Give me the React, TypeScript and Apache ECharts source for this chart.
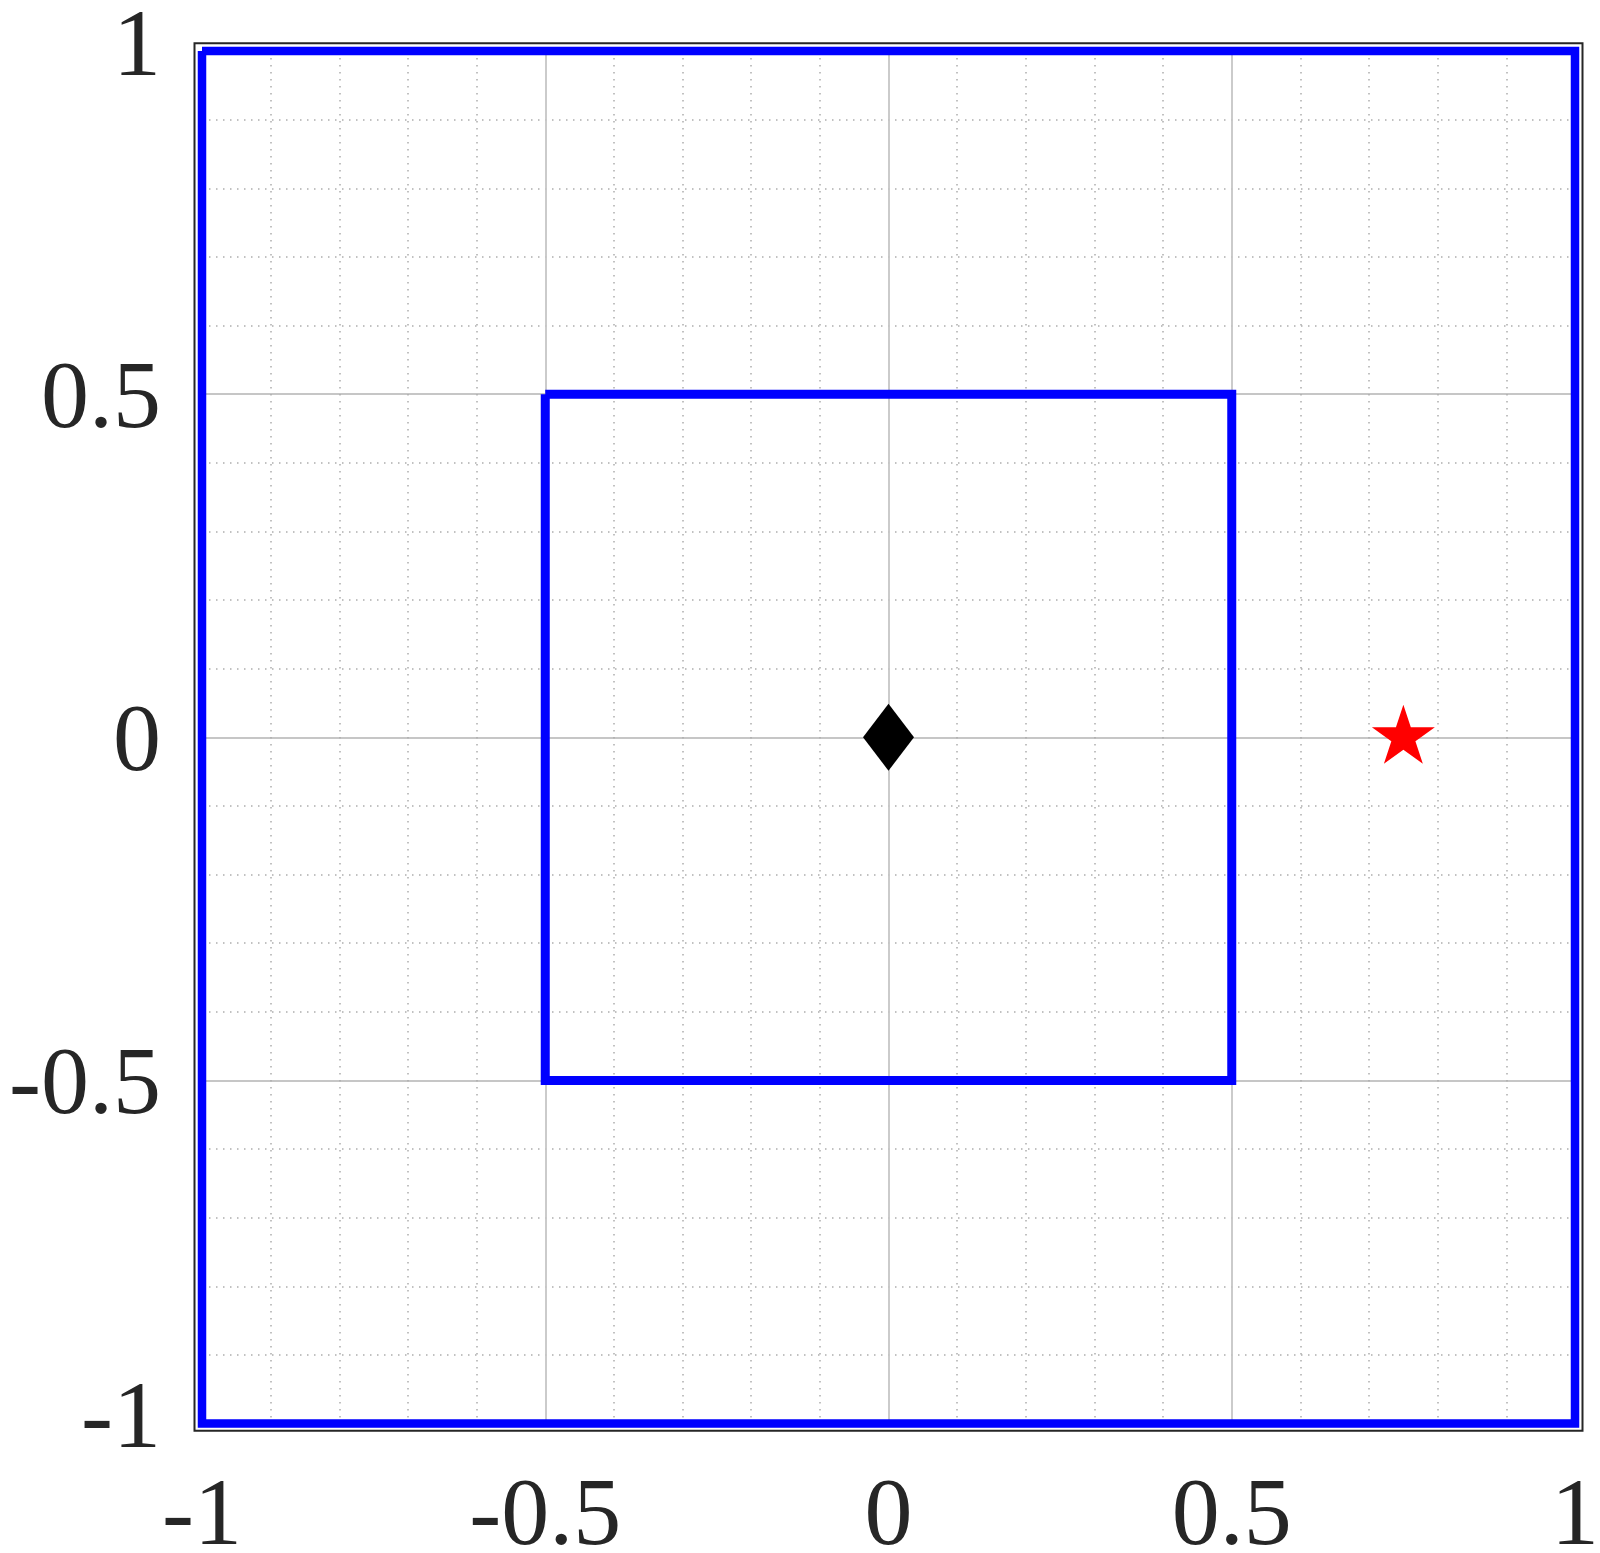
import React, { useEffect, useRef } from "react";
import * as echarts from "echarts";

// Data
const outerSquareX = [-1, 1, 1, -1, -1];
const outerSquareY = [1, 1, -1, -1, 1];
const innerSquareX = [-0.5, 0.5, 0.5, -0.5, -0.5];
const innerSquareY = [0.5, 0.5, -0.5, -0.5, 0.5];
const diamondPoint = [0, 0];
const starPoint = [0.75, 0];
const xTickValues = [-1, -0.5, 0, 0.5, 1];
const xTickLabels = ["-1", "-0.5", "0", "0.5", "1"];
const yTickValues = [-1, -0.5, 0, 0.5, 1];
const yTickLabels = ["-1", "-0.5", "0", "0.5", "1"];

const STAR =
  "path://M50,0 L61.23,34.55 L97.55,34.55 L68.17,55.9 L79.39,90.45 L50,69.1 L20.61,90.45 L31.83,55.9 L2.45,34.55 L38.77,34.55 Z";

const W = 1600;
const H = 1553;
const FONT = "'Liberation Serif', 'DejaVu Serif', serif";
const TEXT_COLOR = "#262626";

function labelFor(values: number[], labels: string[], raiseEnds: boolean) {
  return (v: number) => {
    const i = values.findIndex((t) => Math.abs(t - v) < 1e-9);
    if (i < 0) return "";
    const s = labels[i];
    if (raiseEnds && (i === 0 || i === values.length - 1)) return "{up|" + s + "}";
    return s;
  };
}

export default function App() {
  const ref = useRef<HTMLDivElement>(null);
  useEffect(() => {
    if (!ref.current) return;
    const chart = echarts.init(ref.current, null, { renderer: "svg" });
    const majorLine = { show: true, lineStyle: { color: "#c6c6c6", width: 1.8, type: "solid" as const } };
    const minorLine = { show: true, lineStyle: { color: "#adadad", width: 1.5, type: [1.5, 5.5] as any } };
    const axisCommon = {
      type: "value" as const,
      min: -1,
      max: 1,
      interval: 0.5,
      axisLine: { show: false },
      axisTick: { show: false },
      splitLine: majorLine,
      minorTick: { show: false, splitNumber: 5 },
      minorSplitLine: minorLine,
    };
    chart.setOption({
      animation: false,
      backgroundColor: "#ffffff",
      grid: {
        left: 202,
        right: 25,
        top: 51,
        bottom: 129.5,
        containLabel: false,
        outerBoundsMode: "none",
      },
      xAxis: {
        ...axisCommon,
        axisLabel: {
          show: true,
          showMinLabel: true,
          showMaxLabel: true,
          fontFamily: FONT,
          fontSize: 96,
          color: TEXT_COLOR,
          margin: 40,
          formatter: labelFor(xTickValues, xTickLabels, false),
        },
      },
      yAxis: {
        ...axisCommon,
        axisLabel: {
          show: true,
          showMinLabel: true,
          showMaxLabel: true,
          fontFamily: FONT,
          fontSize: 96,
          color: TEXT_COLOR,
          margin: 41,
          formatter: labelFor(yTickValues, yTickLabels, true),
          rich: {
            up: {
              fontFamily: FONT,
              fontSize: 96,
              color: TEXT_COLOR,
              padding: [0, 0, 18, 0],
            },
          },
        },
      },
      graphic: [
        {
          type: "rect",
          shape: { x: 194.5, y: 43.3, width: 1388, height: 1387.4 },
          style: { fill: "none", stroke: "#262626", lineWidth: 2 },
          z: 1,
          silent: true,
        },
      ],
      series: [
        {
          type: "line",
          data: outerSquareX.map((x, i) => [x, outerSquareY[i]]),
          showSymbol: false,
          symbol: "none",
          clip: false,
          lineStyle: { color: "#0000ff", width: 8.5, join: "miter" },
          z: 3,
        },
        {
          type: "line",
          data: innerSquareX.map((x, i) => [x, innerSquareY[i]]),
          showSymbol: false,
          symbol: "none",
          clip: false,
          lineStyle: { color: "#0000ff", width: 9, join: "miter" },
          z: 3,
        },
        {
          type: "scatter",
          data: [diamondPoint],
          symbol: "diamond",
          symbolSize: [51, 67],
          itemStyle: { color: "#000000", opacity: 1 },
          z: 4,
        },
        {
          type: "scatter",
          data: [starPoint],
          symbol: STAR,
          symbolSize: [63, 59],
          symbolOffset: [0, -3],
          itemStyle: { color: "#ff0000", opacity: 1 },
          z: 4,
        },
      ],
    });
    return () => chart.dispose();
  }, []);
  return (
    <div
      ref={ref}
      style={{ position: "absolute", left: 0, top: 0, width: W, height: H, background: "#fff" }}
    />
  );
}
